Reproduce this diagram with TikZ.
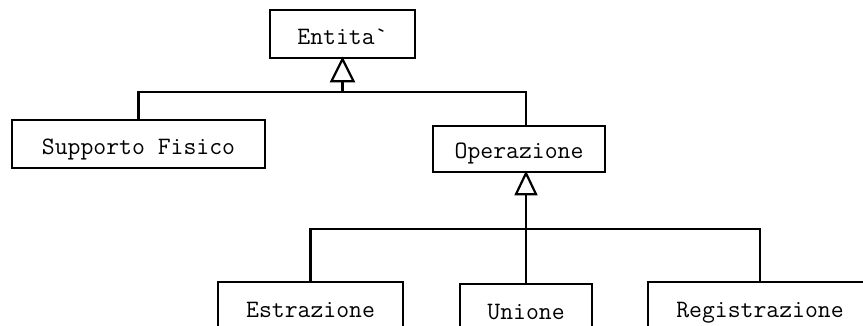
\documentclass[tikz,border=0pt]{standalone}
\usepackage{fontspec}
\begin{document}
\begin{tikzpicture}[x=1pt,y=-1pt,
 cls/.style={draw,line width=2.4pt,fill=white,inner sep=0pt,minimum height=48pt,text height=22pt,text depth=0pt,font=\fontsize{25}{28}\selectfont\ttfamily},
 link/.style={line width=2.2pt},
 gen/.style={line width=2.2pt,fill=white,line join=miter}]
\clip (0,0) rectangle (863,326);
\useasboundingbox (0,0) rectangle (863,326);
\node[cls,minimum width=145pt] (ent) at (342.5,34) {Entita`};
\node[cls,minimum width=253pt] (sup) at (138.5,144) {Supporto Fisico};
\node[cls,minimum width=172pt,minimum height=46pt,text height=20pt] (op) at (519,149) {Operazione};
\node[cls,minimum width=185pt] (est) at (310.5,306) {Estrazione};
\node[cls,minimum width=132pt] (un) at (526,308) {Unione};
\node[cls,minimum width=224pt] (reg) at (760,306) {Registrazione};
\coordinate (j1) at (ent.south |- 0,92);
\coordinate (j2) at (un.north |- 0,229);
\draw[gen] (ent.south) -- ++(-11,22) -- ++(22,0) -- cycle;
\draw[link] (ent.south) ++(0,22) -- (j1);
\draw[link] (sup.north) |- (j1) -| (op.north -| un.north);
\draw[gen] (op.south -| un.north) -- ++(-10,21) -- ++(20,0) -- cycle;
\draw[link] (op.south -| un.north) ++(0,21) -- (un.north);
\draw[link] (est.north) |- (j2) -| (reg.north);
\end{tikzpicture}
\end{document}
